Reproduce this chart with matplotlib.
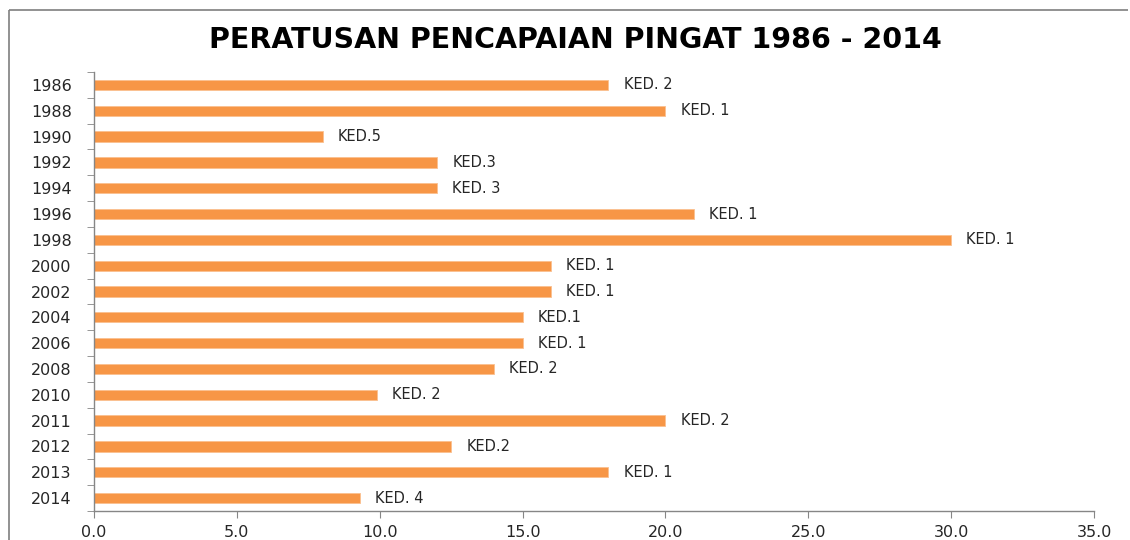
import numpy as np
import matplotlib
matplotlib.use("Agg")
import matplotlib.pyplot as plt
from matplotlib.lines import Line2D

years = ["1986", "1988", "1990", "1992", "1994", "1996", "1998", "2000", "2002",
         "2004", "2006", "2008", "2010", "2011", "2012", "2013", "2014"]
medals = [18, 20, 8, 12, 12, 21, 30, 16, 16, 15, 15, 14, 9.9, 20, 12.5, 18, 9.3]
placings = ["KED. 2", "KED. 1", "KED.5", "KED.3", "KED. 3", "KED. 1", "KED. 1", "KED. 1",
            "KED. 1", "KED.1", "KED. 1", "KED. 2", "KED. 2", "KED. 2", "KED.2", "KED. 1", "KED. 4"]

BAR = "#F79646"
GREY = "#868686"

fig = plt.figure(figsize=(11.3, 5.4), dpi=100)
fig.patch.set_facecolor("white")
# outer chart frame: only the top and left edges are inside the picture
fx, fy = 9/1130, 1 - 10/540
fig.add_artist(Line2D([fx, 1128/1130], [fy, fy], transform=fig.transFigure, color="#7f7f7f", lw=1.2,
                      solid_capstyle="butt"))
fig.add_artist(Line2D([fx, fx], [0.0, fy], transform=fig.transFigure, color="#7f7f7f", lw=1.2,
                      solid_capstyle="butt"))

ax = fig.add_axes([94/1130, 1 - 511/540, 1000/1130, (511-72)/540])
ypos = np.arange(len(years))
ax.barh(ypos, medals, height=0.4, color=BAR, edgecolor="#FAC090", linewidth=0.6)

for y, v, lab in zip(ypos, medals, placings):
    ax.annotate(lab, (v, y), xytext=(11, 0), textcoords="offset points",
                va="center", ha="left", fontsize=10.5, color="#262626")

ax.set_xlim(0, 35)
ax.set_ylim(len(years) - 0.5, -0.5)
ax.set_xticks(np.arange(0, 35.1, 5))
ax.set_xticklabels([f"{t:.1f}" for t in np.arange(0, 35.1, 5)], fontsize=11.5, color="#262626")
ax.set_yticks(ypos)
ax.set_yticklabels(years, fontsize=11.5, color="#262626")
ax.set_yticks(np.arange(-0.5, len(years)), minor=True)
ax.tick_params(axis="y", which="major", length=0, pad=16)
ax.tick_params(axis="y", which="minor", length=5, color=GREY, direction="out")
ax.tick_params(axis="x", length=5, color=GREY, direction="out", pad=5)

for s in ["top", "right"]:
    ax.spines[s].set_visible(False)
for s in ["left", "bottom"]:
    ax.spines[s].set_color(GREY)
    ax.spines[s].set_linewidth(1)

fig.text(575/1130, 1 - 40/540, "PERATUSAN PENCAPAIAN PINGAT 1986 - 2014",
         ha="center", va="center", fontsize=20.5, fontweight="bold", color="black")

fig.savefig("out.png", dpi=100)
